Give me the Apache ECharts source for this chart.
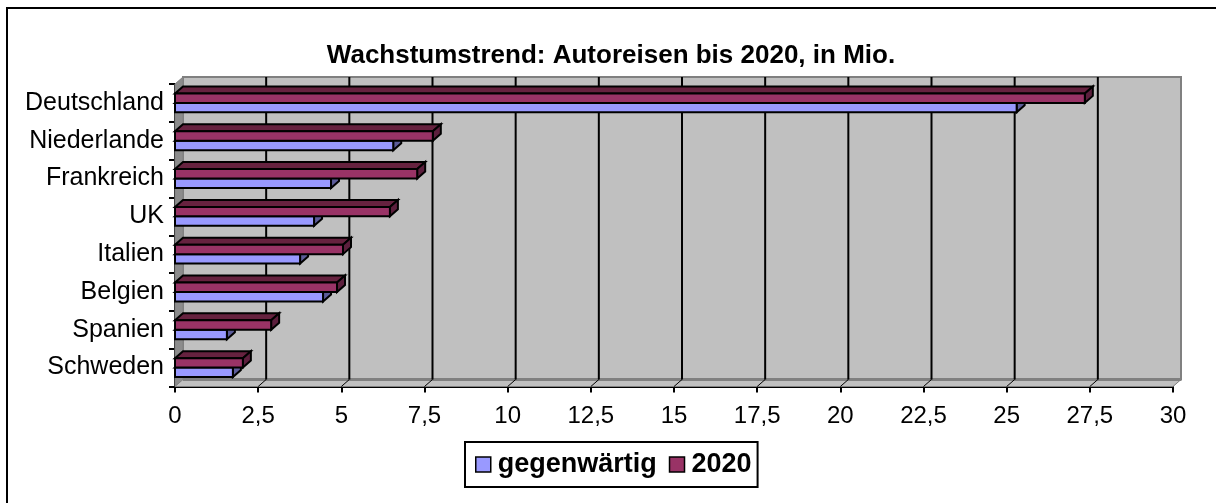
<!DOCTYPE html>
<html>
<head>
<meta charset="utf-8">
<title>Autoreisen</title>
<script src="https://cdn.jsdelivr.net/npm/echarts@6/dist/echarts.min.js"></script>
<style>
html, body { margin: 0; padding: 0; background: #fff; }
#chart { width: 1216px; height: 503px; }
</style>
</head>
<body>
<div id="chart"></div>
<script>
const categories = ['Deutschland', 'Niederlande', 'Frankreich', 'UK', 'Italien', 'Belgien', 'Spanien', 'Schweden'];
const current = [25.3, 6.56, 4.69, 4.18, 3.76, 4.45, 1.56, 1.74];
const future = [27.35, 7.75, 7.28, 6.46, 5.05, 4.87, 2.89, 2.04];
const xTicks = [0, 2.5, 5, 7.5, 10, 12.5, 15, 17.5, 20, 22.5, 25, 27.5, 30];

// depth of the fake 3d box
const DX = 8;
const DY = -7;
const FONT = '"Liberation Sans", Arial, sans-serif';

const chart = echarts.init(document.getElementById('chart'), null, { renderer: 'canvas' });

function poly(points, fill, stroke, width) {
    return {
        type: 'polygon',
        shape: { points },
        style: { fill, stroke: stroke || fill, lineWidth: width === undefined ? 1 : width, lineJoin: 'miter' }
    };
}

// back wall, left wall and floor
function renderWalls(params) {
    const c = params.coordSys;
    const l = c.x, r = c.x + c.width, t = c.y, b = c.y + c.height;
    return {
        type: 'group',
        children: [
            poly([[l + DX, t + DY], [r + DX, t + DY], [r + DX, b + DY], [l + DX, b + DY]], '#c0c0c0', '#808080', 2),
            poly([[l, t], [l + DX, t + DY], [l + DX, b + DY], [l, b]], '#8c8c8c', '#808080', 1),
            poly([[l, b], [l + DX, b + DY], [r + DX, b + DY], [r, b]], '#c0c0c0', '#808080', 1),
            { type: 'line', shape: { x1: l + DX, y1: b + DY, x2: r + DX, y2: b + DY }, style: { stroke: '#808080', lineWidth: 3 } }
        ]
    };
}

// gridlines sit on the back wall, with a small slanted tick on the floor
function renderGrid(params, api) {
    const p = api.coord([api.value(0), 0]);
    const c = params.coordSys;
    const b = c.y + c.height;
    const x = p[0];
    const children = [];
    if (api.value(0) > 0 && api.value(0) < 30) {
        children.push({
            type: 'line',
            shape: { x1: x + DX, y1: c.y + DY, x2: x + DX, y2: b + DY },
            style: { stroke: '#000', lineWidth: 2 }
        });
        children.push({
            type: 'line',
            shape: { x1: x, y1: b, x2: x + DX, y2: b + DY },
            style: { stroke: '#000', lineWidth: 1 }
        });
    }
    return { type: 'group', children };
}

function barRenderer(offset, colors) {
    return function (params, api) {
        const band = api.size([0, 1])[1];
        const h = band * 0.25;
        const start = api.coord([0, api.value(1)]);
        const end = api.coord([api.value(0), api.value(1)]);
        const x0 = start[0], x1 = end[0];
        const y0 = start[1] + offset * h, y1 = y0 + h;
        return {
            type: 'group',
            children: [
                poly([[x0, y0], [x0 + DX, y0 + DY], [x1 + DX, y0 + DY], [x1, y0]], colors[1], '#000', 2),
                poly([[x1, y0], [x1 + DX, y0 + DY], [x1 + DX, y1 + DY], [x1, y1]], colors[2], '#000', 2),
                poly([[x0, y0], [x1, y0], [x1, y1], [x0, y1]], colors[0], '#000', 2)
            ]
        };
    };
}

const option = {
    animation: false,
    backgroundColor: '#fff',
    title: {
        text: 'Wachstumstrend: Autoreisen bis 2020, in Mio.',
        left: 606,
        top: 38,
        textAlign: 'center',
        textStyle: { fontFamily: FONT, fontSize: 26, fontWeight: 'bold', color: '#000' }
    },
    legend: {
        left: 465,
        top: 442,
        data: ['gegenwärtig', '2020'],
        icon: 'rect',
        itemWidth: 15,
        itemHeight: 15,
        itemGap: 12,
        padding: [9, 6, 9, 10],
        borderColor: '#000',
        borderWidth: 2,
        selectedMode: false,
        itemStyle: { borderColor: '#000', borderWidth: 1.5 },
        textStyle: { fontFamily: FONT, fontSize: 27, fontWeight: 'bold', color: '#000', padding: [0, 0, 0, 2] }
    },
    grid: { left: 175, right: 43, top: 84, bottom: 116.5, containLabel: false },
    xAxis: {
        type: 'value',
        min: 0,
        max: 30,
        interval: 2.5,
        axisLine: { show: true, lineStyle: { color: '#000', width: 2 } },
        axisTick: { show: true, length: 6, lineStyle: { color: '#000', width: 2 } },
        axisLabel: {
            fontFamily: FONT,
            fontSize: 24,
            color: '#000',
            margin: 18,
            formatter: v => String(v).replace('.', ',')
        },
        splitLine: { show: false }
    },
    yAxis: {
        type: 'category',
        inverse: true,
        data: categories,
        axisLine: { show: true, lineStyle: { color: '#000', width: 2 } },
        axisTick: { show: true, length: 6, lineStyle: { color: '#000', width: 2 } },
        axisLabel: { fontFamily: FONT, fontSize: 25, color: '#000', margin: 11, padding: [0, 0, 7, 0] },
        splitLine: { show: false }
    },
    series: [
        { name: 'walls', type: 'custom', renderItem: renderWalls, data: [[0, 0]], silent: true, z: 1, clip: false },
        { name: 'grid', type: 'custom', renderItem: renderGrid, data: xTicks.map(v => [v, 0]), silent: true, z: 2, clip: false },
        {
            name: 'gegenwärtig',
            type: 'custom',
            renderItem: barRenderer(0, ['#9999ff', '#7373bf', '#5c5c99']),
            encode: { x: 0, y: 1 },
            data: current.map((v, i) => [v, i]),
            itemStyle: { color: '#9999ff' },
            z: 3,
            clip: false
        },
        {
            name: '2020',
            type: 'custom',
            renderItem: barRenderer(-1, ['#993366', '#66223f', '#5c1f3d']),
            encode: { x: 0, y: 1 },
            data: future.map((v, i) => [v, i]),
            itemStyle: { color: '#993366' },
            z: 4,
            clip: false
        }
    ],
    graphic: [
        { type: 'line', shape: { x1: 6, y1: 8, x2: 1216, y2: 8 }, style: { stroke: '#000', lineWidth: 2 } },
        { type: 'line', shape: { x1: 7, y1: 8, x2: 7, y2: 503 }, style: { stroke: '#000', lineWidth: 2 } }
    ]
};
chart.setOption(option);
</script>
</body>
</html>
